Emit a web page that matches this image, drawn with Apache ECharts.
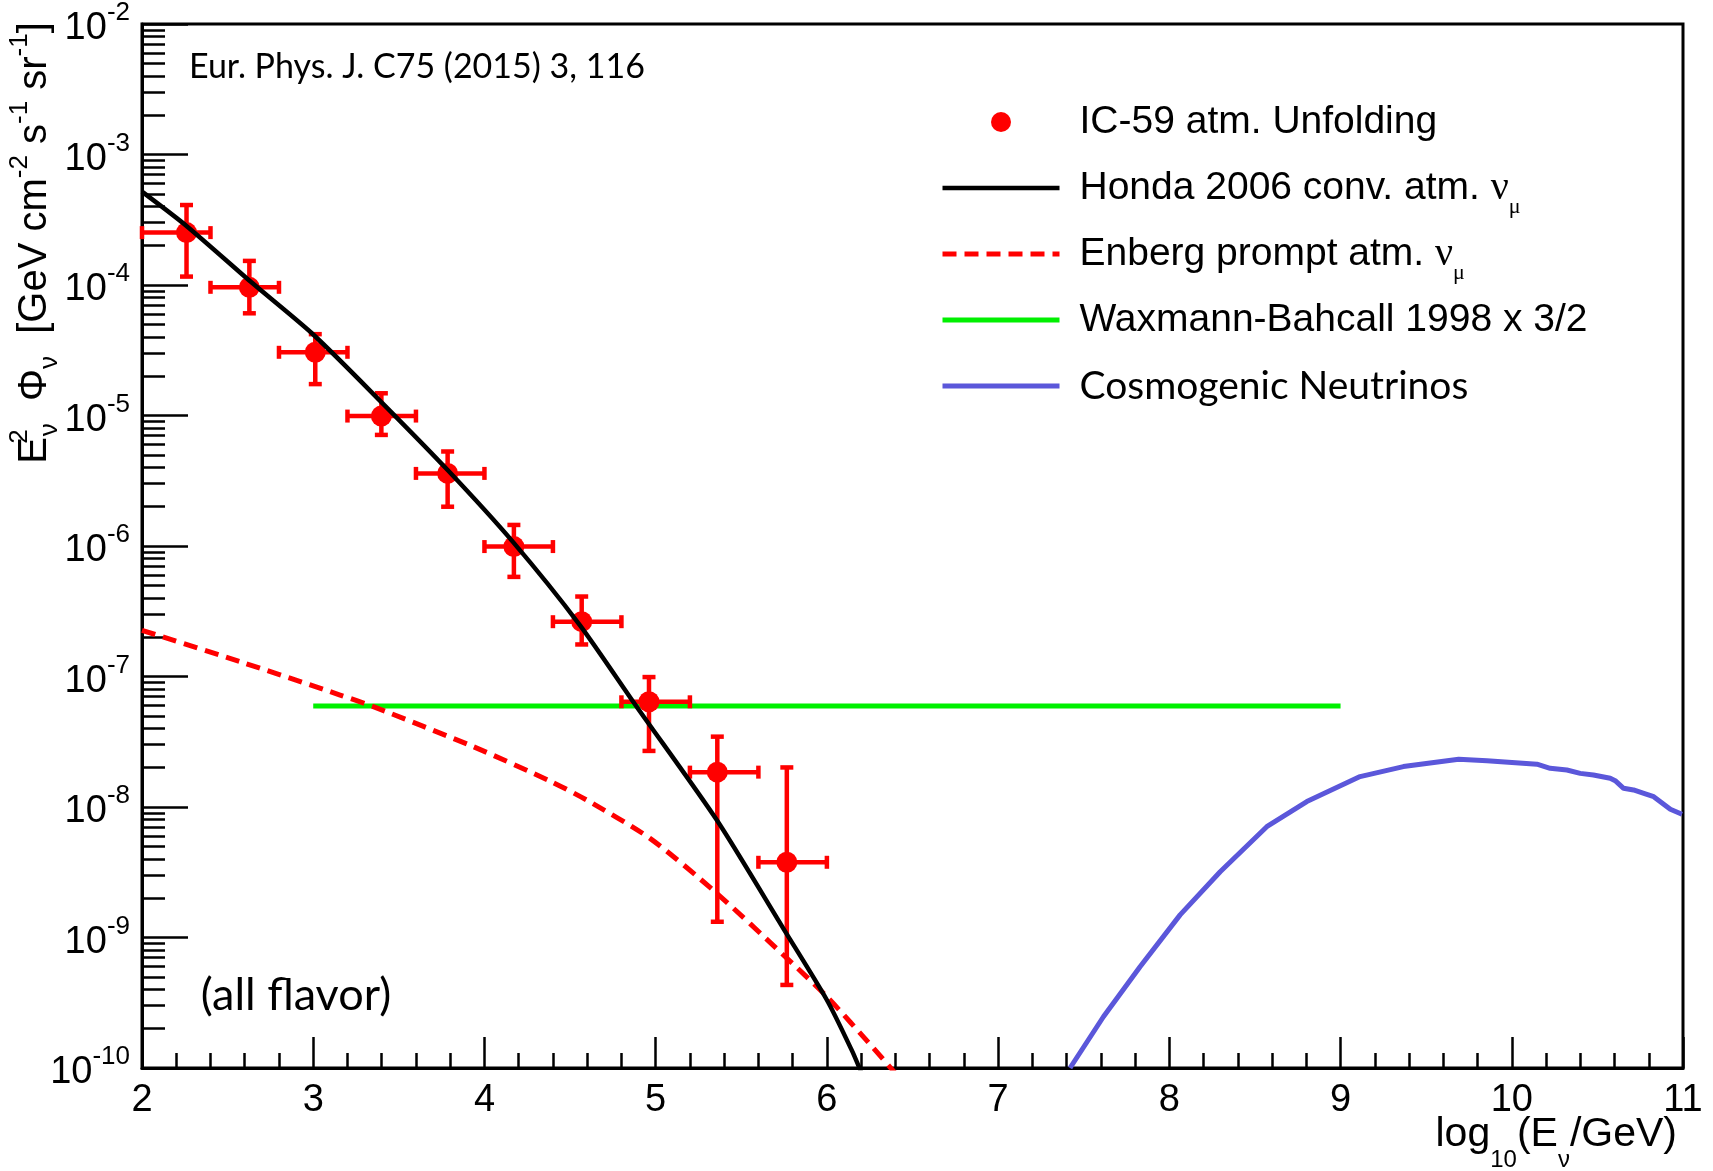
<!DOCTYPE html>
<html><head><meta charset="utf-8">
<script src="https://cdn.jsdelivr.net/npm/echarts@6/dist/echarts.min.js"></script>
<style>html,body{margin:0;padding:0;background:#fff}#c{width:1713px;height:1171px}</style>
</head><body><div id="c"></div>
<script>
// ---- data ----
const xTickValues = [2, 3, 4, 5, 6, 7, 8, 9, 10, 11];
const yDecades = [1e-10, 1e-9, 1e-8, 1e-7, 1e-6, 1e-5, 1e-4, 1e-3, 1e-2];

// IC-59 unfolding points
const ptX = [2.26, 2.627, 3.012, 3.398, 3.785, 4.172, 4.568, 4.961, 5.36, 5.766];
const ptY = [2.52e-4, 9.6e-5, 3.05e-5, 9.9e-6, 3.6e-6, 9.9e-7, 2.63e-7, 6.4e-8, 1.85e-8, 3.77e-9];
const xLo = [2.0, 2.4, 2.8, 3.2, 3.6, 4.0, 4.4, 4.8, 5.2, 5.6];
const xHi = [2.4, 2.8, 3.2, 3.6, 4.0, 4.4, 4.8, 5.2, 5.6, 6.0];
const yHi = [4.1e-4, 1.53e-4, 4.2e-5, 1.48e-5, 5.3e-6, 1.45e-6, 4.1e-7, 9.9e-8, 3.46e-8, 2.01e-8];
const yLo = [1.16e-4, 6.07e-5, 1.74e-5, 7.1e-6, 2.0e-6, 5.8e-7, 1.76e-7, 2.69e-8, 1.32e-9, 4.33e-10];

// Honda 2006 conventional
const hondaX = [2.0, 2.265, 2.646, 3.003, 3.405, 3.785, 4.165, 4.557, 4.889, 5.357, 5.746, 6.0, 6.145, 6.2];
const hondaY = [5.19e-4, 2.80e-4, 1.03e-4, 4.14e-5, 1.24e-5, 3.82e-6, 1.08e-6, 2.48e-7, 5.87e-8, 7.94e-9, 1.17e-9, 3.32e-10, 1.37e-10, 9.3e-11];

// Enberg prompt
const enbergX = [2.0, 2.572, 3.157, 3.351, 3.935, 4.383, 4.597, 4.967, 5.357, 5.746, 6.0, 6.272, 6.4];
const enbergY = [2.26e-7, 1.30e-7, 7.21e-8, 5.87e-8, 2.90e-8, 1.58e-8, 1.13e-8, 5.75e-9, 2.18e-9, 7.35e-10, 3.52e-10, 1.42e-10, 9.1e-11];

// Waxman-Bahcall x 3/2
const wbX = [3, 9];
const wbY = [5.95e-8, 5.95e-8];

// Cosmogenic neutrinos
const cosmoX = [7.42, 7.615, 7.829, 8.063, 8.297, 8.569, 8.803, 9.114, 9.367, 9.69, 9.855, 10.147, 10.224, 10.322, 10.40, 10.477, 10.575, 10.604, 10.653, 10.711, 10.78, 10.829, 10.926, 10.994];
const cosmoY = [1.0e-10, 2.47e-10, 5.97e-10, 1.49e-9, 3.19e-9, 7.06e-9, 1.10e-8, 1.71e-8, 2.04e-8, 2.32e-8, 2.26e-8, 2.13e-8, 1.98e-8, 1.92e-8, 1.81e-8, 1.76e-8, 1.66e-8, 1.59e-8, 1.39e-8, 1.35e-8, 1.26e-8, 1.20e-8, 9.6e-9, 8.8e-9];

const seriesNames = ['IC-59 atm. Unfolding', 'Honda 2006 conv. atm. nu_mu', 'Enberg prompt atm. nu_mu', 'Waxmann-Bahcall 1998 x 3/2', 'Cosmogenic Neutrinos'];
const legendLabels = {
  'IC-59 atm. Unfolding': 'IC-59 atm. Unfolding',
  'Honda 2006 conv. atm. nu_mu': 'Honda 2006 conv. atm. {nu|ν}{mu|μ}',
  'Enberg prompt atm. nu_mu': 'Enberg prompt atm. {nu|ν}{mu|μ}',
  'Waxmann-Bahcall 1998 x 3/2': 'Waxmann-Bahcall 1998 x 3/2',
  'Cosmogenic Neutrinos': '{c|Cosmogenic Neutrinos}'
};

const RED = '#ff0000', BLACK = '#000000', GREEN = '#00f000', BLUE = '#5b57da';

// minor tick positions of the log axis (2..9 per decade)
const yMinor = [];
for (let d = -10; d < -2; d++) for (let k = 2; k <= 9; k++) yMinor.push(k * Math.pow(10, d));

const zip = (a, b) => a.map((v, i) => [v, b[i]]);
const SANS = '"Liberation Sans", Arial, Helvetica, sans-serif';
const SERIF = '"Liberation Serif", "Times New Roman", serif';
const HUM = 'Lato, "Open Sans", sans-serif';

const chart = echarts.init(document.getElementById('c'), null, {renderer: 'canvas'});
chart.setOption({
  animation: false,
  backgroundColor: '#ffffff',
  grid: {left: 142, right: 30, top: 24, bottom: 103, containLabel: false, outerBoundsMode: 'none',
         show: true, borderColor: '#000', borderWidth: 3, backgroundColor: 'transparent'},
  xAxis: {
    type: 'value', min: 2, max: 11, interval: 1,
    axisLine: {show: true, lineStyle: {color: '#000', width: 3}},
    axisTick: {show: true, inside: true, length: 31, lineStyle: {color: '#000', width: 2.5}},
    minorTick: {show: true, splitNumber: 5, length: 15, lineStyle: {color: '#000', width: 2.5}},
    splitLine: {show: false}, minorSplitLine: {show: false},
    axisLabel: {show: true, margin: 14, color: '#000', fontFamily: SANS, fontSize: 38}
  },
  yAxis: [{
    type: 'log', logBase: 10, min: 1e-10, max: 1e-2, position: 'left',
    axisLine: {show: true, lineStyle: {color: '#000', width: 3}},
    axisTick: {show: true, inside: true, length: 46, lineStyle: {color: '#000', width: 2.5}, customValues: yDecades},
    splitLine: {show: false}, minorTick: {show: false},
    axisLabel: {
      show: true, margin: 12, color: '#000', fontFamily: SANS, lineHeight: 48,
      customValues: yDecades,
      formatter: function (v) { const e = Math.round(Math.log10(v)); return '{b|10}{s|' + e + '}'; },
      rich: {
        b: {fontFamily: SANS, fontSize: 38, color: '#000', verticalAlign: 'bottom'},
        s: {fontFamily: SANS, fontSize: 26, color: '#000', verticalAlign: 'top'}
      }
    }
  }, {
    type: 'log', logBase: 10, min: 1e-10, max: 1e-2, position: 'left', offset: 0,
    axisLine: {show: false},
    axisTick: {show: true, inside: true, length: 23, lineStyle: {color: '#000', width: 2.5}, customValues: yMinor},
    axisLabel: {show: false}, splitLine: {show: false}
  }],
  legend: {
    orient: 'vertical', left: 940, top: 92, padding: 0, itemWidth: 117, itemHeight: 20, itemGap: 6,
    selectedMode: false,
    data: [
      {name: seriesNames[0], itemStyle: {color: RED, opacity: 1}},
      {name: seriesNames[1], itemStyle: {opacity: 0}, lineStyle: {width: 4.5, color: BLACK}},
      {name: seriesNames[2], itemStyle: {opacity: 0}, lineStyle: {width: 5, color: RED, type: [14, 8]}},
      {name: seriesNames[3], itemStyle: {opacity: 0}, lineStyle: {width: 5, color: GREEN}},
      {name: seriesNames[4], itemStyle: {opacity: 0}, lineStyle: {width: 5, color: BLUE}}
    ],
    formatter: function (n) { return legendLabels[n]; },
    textStyle: {
      fontFamily: SANS, fontSize: 39, color: '#000', lineHeight: 60, padding: [0, 0, 0, 15],
      rich: {
        nu: {fontFamily: SERIF, fontSize: 40, color: '#000'},
        mu: {fontFamily: SERIF, fontSize: 22, color: '#000', verticalAlign: 'bottom'},
        c: {fontFamily: HUM, fontSize: 39, color: '#000'}
      }
    }
  },
  series: [
    {
      name: seriesNames[3], type: 'line', data: zip(wbX, wbY), showSymbol: false, symbol: 'none', z: 2,
      lineStyle: {color: GREEN, width: 5}, itemStyle: {color: GREEN}
    },
    {
      name: 'errors', type: 'custom', z: 3,
      data: ptX.map((x, i) => [x, ptY[i], xLo[i], xHi[i], yLo[i], yHi[i]]),
      encode: {x: 0, y: 1},
      renderItem: function (params, api) {
        const x = api.value(0), y = api.value(1);
        const pL = api.coord([api.value(2), y]), pR = api.coord([api.value(3), y]);
        const pT = api.coord([x, api.value(5)]), pB = api.coord([x, api.value(4)]);
        const st = {stroke: RED, lineWidth: 4.5};
        const c = 6.5;
        const ln = (x1, y1, x2, y2) => ({type: 'line', shape: {x1, y1, x2, y2}, style: st});
        return {type: 'group', children: [
          ln(pL[0], pL[1], pR[0], pR[1]), ln(pT[0], pT[1], pB[0], pB[1]),
          ln(pL[0], pL[1] - c, pL[0], pL[1] + c), ln(pR[0], pR[1] - c, pR[0], pR[1] + c),
          ln(pT[0] - c, pT[1], pT[0] + c, pT[1]), ln(pB[0] - c, pB[1], pB[0] + c, pB[1])
        ]};
      }
    },
    {
      name: seriesNames[0], type: 'scatter', data: zip(ptX, ptY), symbol: 'circle', symbolSize: 21, z: 4,
      itemStyle: {color: RED, opacity: 1}
    },
    {
      name: seriesNames[2], type: 'line', data: zip(enbergX, enbergY), showSymbol: false, symbol: 'none', z: 5,
      smooth: 0.25,
      lineStyle: {color: RED, width: 5, type: [14, 8]}, itemStyle: {color: RED}
    },
    {
      name: seriesNames[1], type: 'line', data: zip(hondaX, hondaY), showSymbol: false, symbol: 'none', z: 6,
      smooth: 0.25,
      lineStyle: {color: BLACK, width: 4.5}, itemStyle: {color: BLACK}
    },
    {
      name: seriesNames[4], type: 'line', data: zip(cosmoX, cosmoY), showSymbol: false, symbol: 'none', z: 6,
      lineStyle: {color: BLUE, width: 5}, itemStyle: {color: BLUE}
    }
  ],
  graphic: [
    {
      type: 'text', x: 35, y: 243, rotation: Math.PI / 2, z: 10,
      style: {
        text: '{m|E}{pz|2}{q|ν}{m|  Φ}{q|ν}{m|  [GeV cm}{p|-2}{m| s}{p|-1}{m| sr}{p|-1}{m|]}',
        align: 'center', verticalAlign: 'middle', lineHeight: 56,
        rich: {
          m: {fontFamily: SANS, fontSize: 40, fill: '#000', verticalAlign: 'middle'},
          p: {fontFamily: SANS, fontSize: 26, fill: '#000', verticalAlign: 'top'},
          pz: {fontFamily: SANS, fontSize: 26, fill: '#000', verticalAlign: 'top', width: 1},
          q: {fontFamily: SANS, fontSize: 26, fill: '#000', verticalAlign: 'bottom'}
        }
      }
    },
    {
      type: 'text', x: 1677, y: 1135, z: 10,
      style: {
        text: '{m|log}{d|10}{m|(E}{d|ν}{m|/GeV)}',
        align: 'right', verticalAlign: 'middle', lineHeight: 74,
        rich: {
          m: {fontFamily: SANS, fontSize: 41, fill: '#000', verticalAlign: 'middle'},
          d: {fontFamily: SANS, fontSize: 24, fill: '#000', verticalAlign: 'bottom'}
        }
      }
    },
    {
      type: 'text', x: 189, y: 67, z: 10,
      style: {text: 'Eur. Phys. J. C75 (2015) 3, 116', fontFamily: HUM, fontSize: 34, fill: '#000', align: 'left', verticalAlign: 'middle'}
    },
    {
      type: 'text', x: 296, y: 995, z: 10,
      style: {text: '(all flavor)', fontFamily: HUM, fontSize: 45, fill: '#000', align: 'center', verticalAlign: 'middle'}
    }
  ]
});
</script>
</body></html>
